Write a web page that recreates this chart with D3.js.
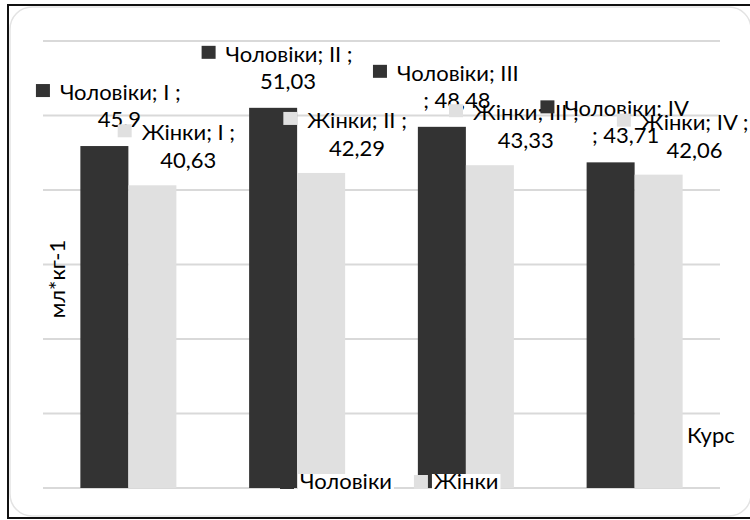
<!DOCTYPE html>
<html>
<head>
<meta charset="utf-8">
<script src="https://cdn.jsdelivr.net/npm/d3@7"></script>
<style>
  html, body { margin: 0; padding: 0; background: #fff; }
  svg { display: block; font-family: Lato, "Open Sans", sans-serif; }
</style>
</head>
<body>
<svg id="chart" width="750" height="520"></svg>
<script>
// ---- data ----
const categories = ["I", "II", "III", "IV"];
const seriesNames = ["Чоловіки", "Жінки"];
const menValues = [45.9, 51.03, 48.48, 43.71];
const womenValues = [40.63, 42.29, 43.33, 42.06];
const yTicks = [0, 10, 20, 30, 40, 50, 60];
const yTitle = "мл*кг-1";
const xTitle = "Курс";
// whether the "; " separator wrapped onto the second label line
const menWrapSemicolon = [false, false, true, true];
const womenWrapSemicolon = [false, false, false, false];

// ---- styles ----
const colors = ["#333333", "#e0e0e0"];
const fontSize = 22;

const svg = d3.select("#chart");

// frames
svg.append("rect").attr("x", 8).attr("y", 5).attr("width", 760).attr("height", 513)
  .attr("fill", "#fff").attr("stroke", "#111").attr("stroke-width", 2);
svg.append("rect").attr("x", 10).attr("y", 7).attr("width", 741).attr("height", 509)
  .attr("rx", 22).attr("fill", "none").attr("stroke", "#e3e3e3").attr("stroke-width", 1.5);

const plot = { left: 43, right: 720, top: 41, bottom: 488 };

const y = d3.scaleLinear().domain([0, 60]).range([plot.bottom, plot.top]);
const x0 = d3.scaleBand().domain(categories).range([44, 719])
  .paddingInner(0.431).paddingOuter(0.2155);
const x1 = d3.scaleBand().domain(seriesNames).range([0, x0.bandwidth()]).padding(0);

// gridlines
svg.append("g").selectAll("line").data(yTicks).join("line")
  .attr("x1", plot.left).attr("x2", plot.right)
  .attr("y1", d => y(d)).attr("y2", d => y(d))
  .attr("stroke", "#d9d9d9").attr("stroke-width", 2);

const series = [
  { name: seriesNames[0], values: menValues, color: colors[0], wrap: menWrapSemicolon,
    dx1: 4, dx2: 15, dy1: -54, dy2: -27 },
  { name: seriesNames[1], values: womenValues, color: colors[1], wrap: womenWrapSemicolon,
    dx1: 24, dx2: 36, dy1: -53, dy2: -25 }
];

// bars
series.forEach(s => {
  svg.append("g").selectAll("rect").data(categories).join("rect")
    .attr("x", (c) => x0(c) + x1(s.name))
    .attr("y", (c, i) => y(s.values[i]))
    .attr("width", x1.bandwidth())
    .attr("height", (c, i) => y(0) - y(s.values[i]))
    .attr("fill", s.color);
});

// y title
svg.append("text")
  .attr("transform", `translate(65, 279) rotate(-90)`)
  .attr("text-anchor", "middle")
  .attr("font-size", fontSize)
  .attr("fill", "#000")
  .text(yTitle);

// x title
svg.append("text").attr("x", 687).attr("y", 443)
  .attr("font-size", fontSize).attr("fill", "#000").text(xTitle);

// data labels
const fmt = v => String(v).replace(".", ",");
const keySize = 14, keyGap = 10;
const labelLayer = svg.append("g");
categories.forEach((c, i) => {
  series.forEach(s => {
    const v = s.values[i];
    const cx = x0(c) + x1(s.name) + x1.bandwidth() / 2;
    const top = y(v);
    const line1 = s.wrap[i] ? `${s.name}; ${c}` : `${s.name}; ${c} ;`;
    const line2 = s.wrap[i] ? `; ${fmt(v)}` : fmt(v);
    const g = labelLayer.append("g");
    const t1 = g.append("text").attr("font-size", fontSize).attr("fill", "#000").text(line1);
    const w1 = t1.node().getComputedTextLength();
    const total = keySize + keyGap + w1;
    const startX = cx + s.dx1 - total / 2;
    const cy1 = top + s.dy1;
    g.insert("rect", "text").attr("x", startX).attr("y", cy1 - keySize / 2 - 1)
      .attr("width", keySize).attr("height", keySize - 1).attr("fill", s.color);
    t1.attr("x", startX + keySize + keyGap).attr("y", cy1 + 8);
    g.append("text").attr("font-size", fontSize).attr("fill", "#000")
      .attr("text-anchor", "middle")
      .attr("x", cx + s.dx2).attr("y", top + s.dy2 + 8)
      .text(line2);
  });
});

// legend
const legend = svg.append("g");
let lx = 280;
const ly = 482;
seriesNames.forEach((name, i) => {
  const item = legend.append("g");
  const txt = item.append("text").attr("font-size", fontSize).attr("fill", "#000").text(name);
  const w = txt.node().getComputedTextLength();
  item.insert("rect", "text").attr("x", lx + keySize + 4).attr("y", ly - 8)
    .attr("width", w + 4).attr("height", 18).attr("fill", "#fff");
  item.append("rect").attr("x", lx).attr("y", ly - 7).attr("width", keySize).attr("height", keySize)
    .attr("fill", colors[i]);
  txt.attr("x", lx + keySize + 6).attr("y", ly + 7);
  txt.raise();
  lx += keySize + 6 + w + 22;
});
</script>
</body>
</html>
